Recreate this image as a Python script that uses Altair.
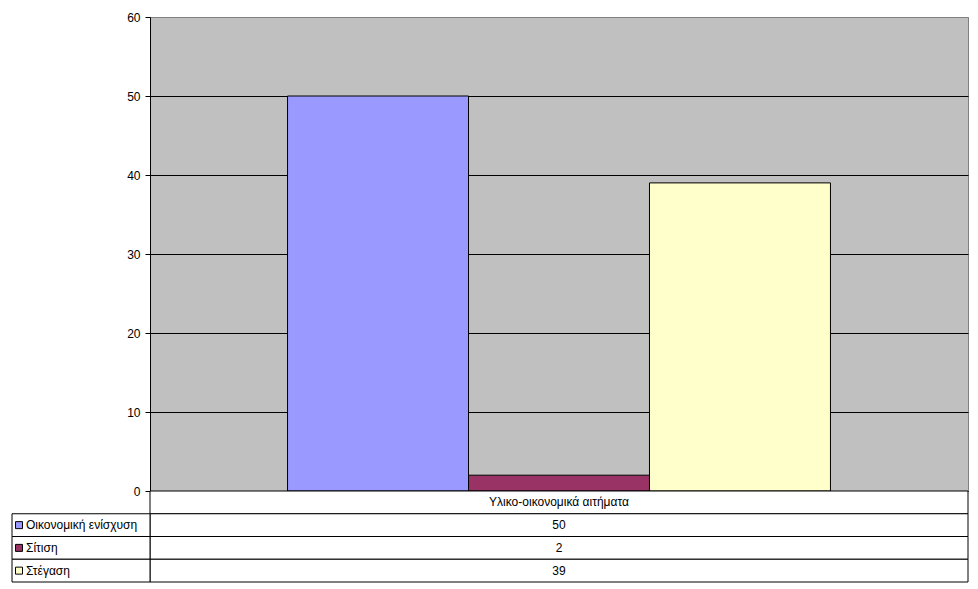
import altair as alt
import pandas as pd

category = "Υλικο-οικονομικά αιτήματα"
series = ["Οικονομική ενίσχυση", "Σίτιση", "Στέγαση"]
values = [50, 2, 39]
colors = ["#9999FF", "#993366", "#FFFFCC"]
y_ticks = [0, 10, 20, 30, 40, 50, 60]

FONT = "Liberation Sans"

bars_df = pd.DataFrame({"category": [category] * len(series), "series": series, "value": values})
rows = [category] + series
rows_df = pd.DataFrame({"row": rows, "text": [category] + [str(v) for v in values]})

W, H = 818, 474
TABLE_H = 91

color_scale = alt.Scale(domain=series, range=colors)
row_scale = alt.Scale(domain=rows, range=[H, H + TABLE_H], paddingInner=0, paddingOuter=0)
row_y = alt.Y("row:N", sort=rows, scale=row_scale, axis=None)

bars = alt.Chart(bars_df).mark_bar(stroke="black", strokeWidth=1).encode(
    x=alt.X("category:N", scale=alt.Scale(paddingInner=0, paddingOuter=0), axis=None),
    xOffset=alt.XOffset("series:N", sort=series,
                        scale=alt.Scale(domain=series, paddingInner=0, paddingOuter=0.76)),
    y=alt.Y("value:Q", scale=alt.Scale(domain=[0, 60], nice=False),
            axis=alt.Axis(values=y_ticks, title=None, grid=True,
                          gridColor={"condition": {"test": "datum.value == 60", "value": "#808080"},
                                     "value": "black"},
                          gridWidth=1, tickColor="black", tickSize=5, domainColor="black",
                          labelFont=FONT, labelFontSize=12, labelColor="black", labelPadding=5)),
    color=alt.Color("series:N", scale=color_scale, legend=None),
)

cells_right = alt.Chart(rows_df).mark_rect(fill="white", stroke="black", strokeWidth=1).encode(
    y=row_y, x=alt.value(0), x2=alt.value(W)
)

left_base = alt.Chart(rows_df).transform_filter(alt.FieldOneOfPredicate(field="row", oneOf=series))

cells_left = left_base.mark_rect(fill="white", stroke="black", strokeWidth=1).encode(
    y=row_y, x=alt.value(-138), x2=alt.value(0)
)

value_text = alt.Chart(rows_df).mark_text(font=FONT, fontSize=12, color="black").encode(
    y=row_y, x=alt.value(W / 2), text="text:N"
)

label_text = left_base.mark_text(font=FONT, fontSize=12, color="black", align="left").encode(
    y=row_y, x=alt.value(-124), text="row:N"
)

squares = left_base.mark_point(shape="square", filled=True, size=49, stroke="black",
                               strokeWidth=1, opacity=1).encode(
    y=row_y, x=alt.value(-131),
    color=alt.Color("row:N", scale=color_scale, legend=None),
)

chart = alt.layer(bars, cells_right, cells_left, value_text, label_text, squares).resolve_scale(
    y="independent"
).properties(
    width=W, height=H,
    background="white",
    autosize=alt.AutoSizeParams(type="none"),
    padding={"left": 142, "top": 9, "right": 2, "bottom": 96},
).configure_view(fill="#C0C0C0", stroke="#808080")

chart.save("out.html", embed_options={"renderer": "svg", "actions": False})
